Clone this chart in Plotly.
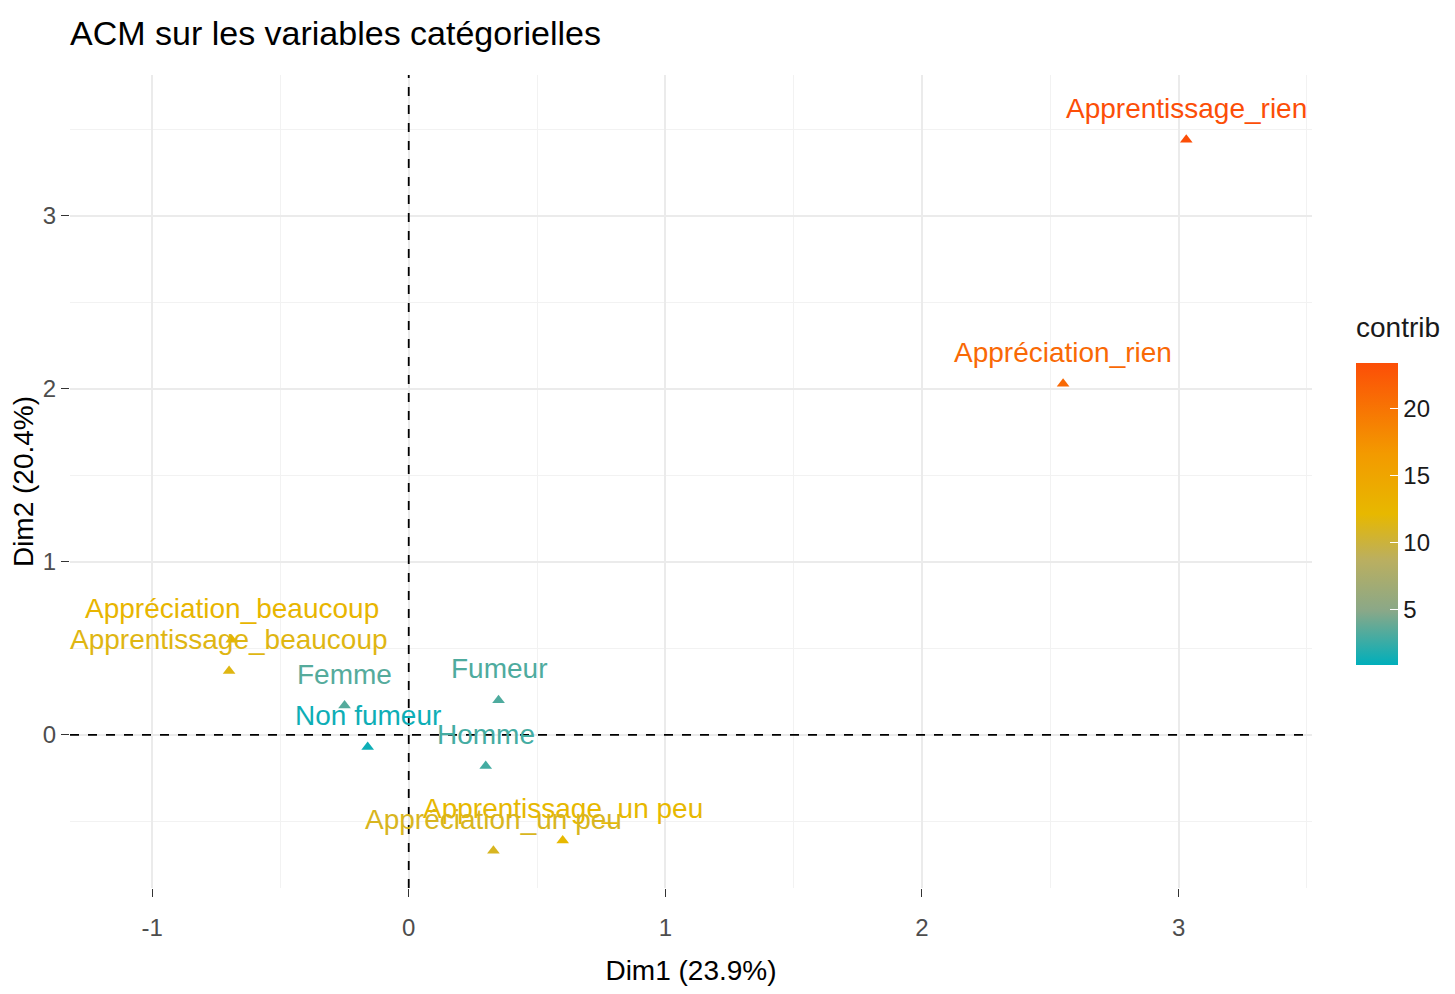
import plotly.graph_objects as go

# Coordonnées des modalités (ACM)
categories = ["Apprentissage_rien", "Appréciation_rien", "Appréciation_beaucoup",
              "Apprentissage_beaucoup", "Femme", "Fumeur", "Non fumeur", "Homme",
              "Apprentissage_un peu", "Appréciation_un peu"]
dim1 = [3.03, 2.55, -0.69, -0.70, -0.25, 0.35, -0.16, 0.30, 0.60, 0.33]
dim2 = [3.44, 2.03, 0.55, 0.37, 0.17, 0.20, -0.07, -0.18, -0.61, -0.67]
contrib = [23.4, 21.0, 12.6, 11.5, 3.4, 3.2, 1.3, 2.9, 12.2, 11.0]

x_ticks = [-1, 0, 1, 2, 3]
x_ticktext = ["-1", "0", "1", "2", "3"]
y_ticks = [0, 1, 2, 3]

cmin, cmax = 0.9, 23.4
stops = [(0, "#00AFBB"), (0.18, "#8AA888"), (0.35, "#BBAF5F"), (0.5, "#E7B800"),
         (0.7, "#F39A00"), (1, "#FC4E07")]
scale = [[t, c] for t, c in stops]


def hex_rgb(h):
    return [int(h[i:i + 2], 16) for i in (1, 3, 5)]


def contrib_color(v):
    t = (v - cmin) / (cmax - cmin)
    for (t0, c0), (t1, c1) in zip(stops[:-1], stops[1:]):
        if t <= t1:
            f = max(0, (t - t0) / (t1 - t0))
            rgb = [round(a + (b - a) * f) for a, b in zip(hex_rgb(c0), hex_rgb(c1))]
            return "rgb({},{},{})".format(*rgb)
    return stops[-1][1]


# plot area in the figure: x 62..1304, y 67..880 (page has an 8px body margin)
L, R, T, B = 62, 151, 67, 114
PW, PH = 1455 - L - R, 994 - T - B

fig = go.Figure()

fig.add_trace(go.Scatter(
    x=dim1, y=dim2, mode="markers",
    marker=dict(symbol="triangle-up", size=11, color=contrib,
                colorscale=scale, cmin=cmin, cmax=cmax,
                colorbar=dict(
                    x=(1348 - L) / PW, xanchor="left", xpad=0, ypad=0,
                    y=(880 - 506) / PH, yanchor="middle",
                    len=302, lenmode="pixels", thickness=42,
                    outlinewidth=0,
                    tickvals=[5, 10, 15, 20],
                    ticks="inside", ticklen=8, tickcolor="white",
                    tickfont=dict(size=24, color="#1a1a1a"),
                )),
    hovertext=categories, showlegend=False,
))

# titre de la légende de couleur
fig.add_annotation(x=(1346 - L) / PW, xref="paper", xanchor="left",
                   y=(880 - 319) / PH, yref="paper", yanchor="middle",
                   text="contrib", showarrow=False,
                   font=dict(size=28, color="#1a1a1a"))

# Étiquettes au-dessus des points
for name, xv, yv, c in zip(categories, dim1, dim2, contrib):
    fig.add_annotation(x=xv, y=yv, text=name, showarrow=False,
                       yanchor="bottom", yshift=14,
                       font=dict(size=28, color=contrib_color(c)))

# Axes de référence en pointillés
fig.add_hline(y=0, line=dict(color="black", width=1.8, dash="dash"))
fig.add_vline(x=0, line=dict(color="black", width=1.8, dash="dash"))

axis_common = dict(
    showgrid=True, gridcolor="#EBEBEB", gridwidth=2,
    minor=dict(showgrid=True, gridcolor="#F2F2F2", gridwidth=1, dtick=0.5),
    zeroline=False, showline=False, automargin=False,
    ticks="outside", ticklen=8, tickcolor="#333333",
    tickfont=dict(size=24, color="#4D4D4D"),
)

fig.update_layout(
    width=1455, height=994,
    plot_bgcolor="white", paper_bgcolor="white",
    font=dict(family="Liberation Sans, Arial, sans-serif"),
    title=dict(text="ACM sur les variables catégorielles",
               x=L / 1455, xanchor="left", y=1 - 25 / 994, yanchor="middle",
               font=dict(size=34, color="black")),
    margin=dict(l=L, r=R, t=T, b=B, autoexpand=False),
    xaxis=dict(range=[-1.32, 3.52], tickvals=x_ticks, ticktext=x_ticktext,
               ticklabelstandoff=10,
               title=dict(text="Dim1 (23.9%)", font=dict(size=28, color="black"),
                          standoff=20),
               **axis_common),
    yaxis=dict(range=[-0.885, 3.815], tickvals=y_ticks,
               title=dict(text="Dim2 (20.4%)", font=dict(size=28, color="black"),
                          standoff=10),
               **axis_common),
)

fig.write_html("out.html")
